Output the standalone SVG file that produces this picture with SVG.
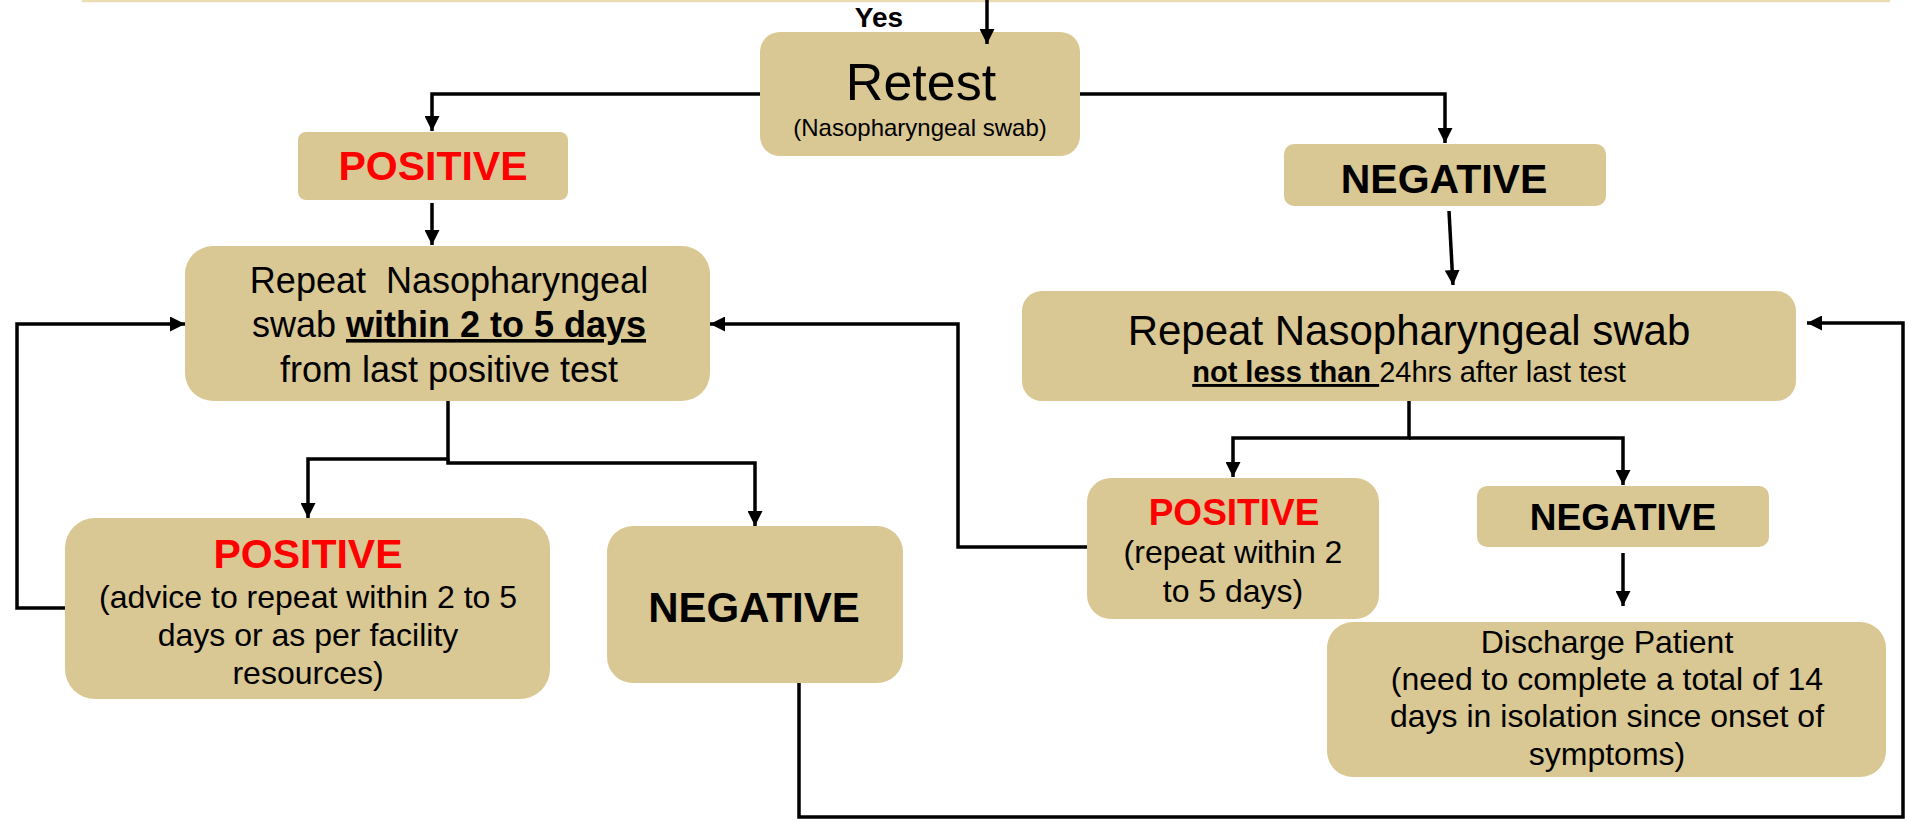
<svg xmlns="http://www.w3.org/2000/svg" width="1908" height="822" viewBox="0 0 1908 822">
<defs>
<style>
.box{fill:#D9C794;}
.t{font-family:"Liberation Sans",Arial,sans-serif;fill:#000;text-anchor:middle;}
.b{font-weight:bold;}
.red{fill:#FF0000;}
.u{text-decoration:underline;}
.c{fill:none;stroke:#000;stroke-width:3.5;stroke-linejoin:miter;}
.a{marker-end:url(#ah);}
</style>
<marker id="ah" markerUnits="userSpaceOnUse" markerWidth="15" markerHeight="15" refX="14" refY="7" orient="auto" viewBox="0 0 14 14">
<path d="M0,0 L14,7 L0,14 z" fill="#000"/>
</marker>
</defs>
<rect x="0" y="0" width="1908" height="822" fill="#fff"/>
<line x1="82" y1="1" x2="1890" y2="1" stroke="#EADCB3" stroke-width="2.5"/>
<text class="t b" x="879" y="27" font-size="28">Yes</text>

<g id="retest">
<rect class="box" x="760" y="32" width="320" height="124" rx="20"/>
<text class="t" x="921" y="100" font-size="52">Retest</text>
<text class="t" x="920" y="136" font-size="24">(Nasopharyngeal swab)</text>
</g>

<g id="positive1">
<rect class="box" x="298" y="132" width="270" height="68" rx="8"/>
<text class="t b red" x="433" y="180" font-size="41">POSITIVE</text>
</g>

<g id="negative1">
<rect class="box" x="1284" y="144" width="322" height="62" rx="10"/>
<text class="t b" x="1444" y="193" font-size="41">NEGATIVE</text>
</g>

<g id="repeat-left">
<rect class="box" x="185" y="246" width="525" height="155" rx="28"/>
<text class="t" x="449" y="293" font-size="36" xml:space="preserve">Repeat  Nasopharyngeal</text>
<text class="t" x="449" y="337" font-size="36">swab <tspan class="b u">within 2 to 5 days</tspan></text>
<text class="t" x="449" y="382" font-size="36">from last positive test</text>
</g>

<g id="repeat-right">
<rect class="box" x="1022" y="291" width="774" height="110" rx="20"/>
<text class="t" x="1409" y="345" font-size="42">Repeat Nasopharyngeal swab</text>
<text class="t" x="1409" y="382" font-size="29" xml:space="preserve"><tspan class="b u">not less than </tspan>24hrs after last test</text>
</g>

<g id="positive2">
<rect class="box" x="65" y="518" width="485" height="181" rx="30"/>
<text class="t b red" x="308" y="568" font-size="41">POSITIVE</text>
<text class="t" x="308" y="608" font-size="32">(advice to repeat within 2 to 5</text>
<text class="t" x="308" y="646" font-size="32">days or as per facility</text>
<text class="t" x="308" y="684" font-size="32">resources)</text>
</g>

<g id="negative2">
<rect class="box" x="607" y="526" width="296" height="157" rx="26"/>
<text class="t b" x="754" y="622" font-size="42">NEGATIVE</text>
</g>

<g id="positive3">
<rect class="box" x="1087" y="478" width="292" height="141" rx="24"/>
<text class="t b red" x="1234" y="525" font-size="37">POSITIVE</text>
<text class="t" x="1233" y="563" font-size="32">(repeat within 2</text>
<text class="t" x="1233" y="602" font-size="32">to 5 days)</text>
</g>

<g id="negative3">
<rect class="box" x="1477" y="486" width="292" height="61" rx="10"/>
<text class="t b" x="1623" y="530" font-size="37">NEGATIVE</text>
</g>

<g id="discharge">
<rect class="box" x="1327" y="622" width="559" height="155" rx="26"/>
<text class="t" x="1607" y="653" font-size="32">Discharge Patient</text>
<text class="t" x="1607" y="690" font-size="32">(need to complete a total of 14</text>
<text class="t" x="1607" y="727" font-size="32">days in isolation since onset of</text>
<text class="t" x="1607" y="765" font-size="32">symptoms)</text>
</g>

<g id="connectors">
<path class="c a" d="M987,0 V44"/>
<path class="c a" d="M760,94 H432 V131"/>
<path class="c a" d="M1080,94 H1445 V143"/>
<path class="c a" d="M432,203 V245"/>
<path class="c a" d="M1449,211 L1453,285"/>
<path class="c a" d="M448,401 V459 H308 V518"/>
<path class="c a" d="M448,459 V463 H755 V526"/>
<path class="c a" d="M65,608 H17 V324 H185"/>
<path class="c a" d="M1087,547 H958 V324 H710"/>
<path class="c a" d="M1409,401 V438 H1233 V477"/>
<path class="c a" d="M1409,438 H1623 V485"/>
<path class="c a" d="M1623,553 V606"/>
<path class="c a" d="M799,683 V817 H1903 V323 H1807"/>
</g>
</svg>
